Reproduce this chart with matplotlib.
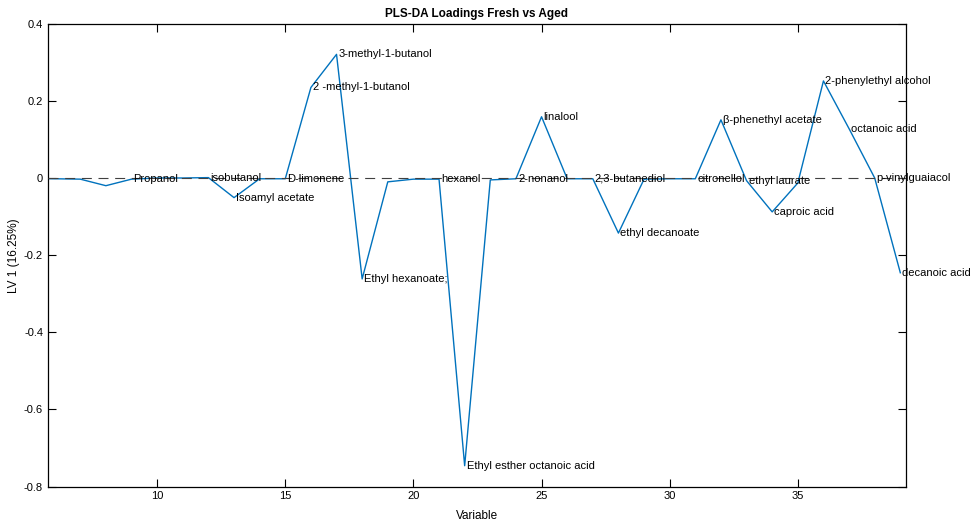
import numpy as np
import matplotlib
matplotlib.use('Agg')
import matplotlib.pyplot as plt
from matplotlib.ticker import FuncFormatter

plt.rcParams['font.family'] = ['Liberation Sans', 'DejaVu Sans']
plt.rcParams['axes.unicode_minus'] = False

# LV1 loadings per variable index
variables = np.arange(5, 40)
loadings = [0.0, -0.001, -0.002, -0.019, -0.002, 0.001, 0.001, 0.002, -0.050, -0.001,
            -0.001, 0.236, 0.322, -0.261, -0.009, -0.002, -0.002, -0.746, -0.004, -0.001,
            0.160, -0.001, -0.001, -0.142, -0.002, -0.001, -0.001, 0.152, -0.006, -0.087,
            -0.012, 0.253, 0.129, 0.001, -0.245]

# annotated compounds: variable index -> name
label_idx = [9, 12, 13, 15, 16, 17, 18, 21, 22, 24, 25, 27, 28, 31, 32, 33, 34, 36, 37, 38, 39]
label_names = ['Propanol', 'isobutanol', 'Isoamyl acetate', 'D-limonene', '2 -methyl-1-butanol',
               '3-methyl-1-butanol', 'Ethyl hexanoate;', 'hexanol', 'Ethyl esther octanoic acid',
               '2-nonanol', 'linalool', '2,3-butanediol', 'ethyl decanoate', 'citronellol',
               '\u03b2-phenethyl acetate', 'ethyl laurate', 'caproic acid', '2-phenylethyl alcohol',
               'octanoic acid', 'p-vinylguaiacol', 'decanoic acid']

fig = plt.figure(figsize=(9.73, 5.25), dpi=100)
ax = fig.add_axes([0.0493, 0.0733, 0.8818, 0.8804])

ax.plot(variables, loadings, color='#0072BD', linewidth=1.0, zorder=2)
ax.axhline(0, color='#404040', linewidth=0.8, linestyle=(0, (9, 6)), zorder=3)

lookup = dict(zip(variables, loadings))
for i, name in zip(label_idx, label_names):
    ax.text(i + 0.08, lookup[i], name, fontsize=8, ha='left', va='center', zorder=4,
            clip_on=False)

ax.set_xlim(5.74, 39.22)
ax.set_ylim(-0.8, 0.4)
ax.set_xticks([10, 15, 20, 25, 30, 35])
ax.set_yticks([-0.8, -0.6, -0.4, -0.2, 0, 0.2, 0.4])
ax.yaxis.set_major_formatter(FuncFormatter(lambda v, p: '0' if abs(v) < 1e-9 else f'{v:g}'))
ax.tick_params(direction='in', length=6, width=0.8, labelsize=8, top=True, right=True)
for s in ax.spines.values():
    s.set_linewidth(0.9)

ax.set_title('PLS-DA Loadings Fresh vs Aged', fontsize=8.5, fontweight='bold', pad=5)
ax.set_xlabel('Variable', fontsize=8.5, labelpad=6)
ax.set_ylabel('LV 1 (16.25%)', fontsize=8.5, labelpad=3)

fig.savefig('out.png', dpi=100)
